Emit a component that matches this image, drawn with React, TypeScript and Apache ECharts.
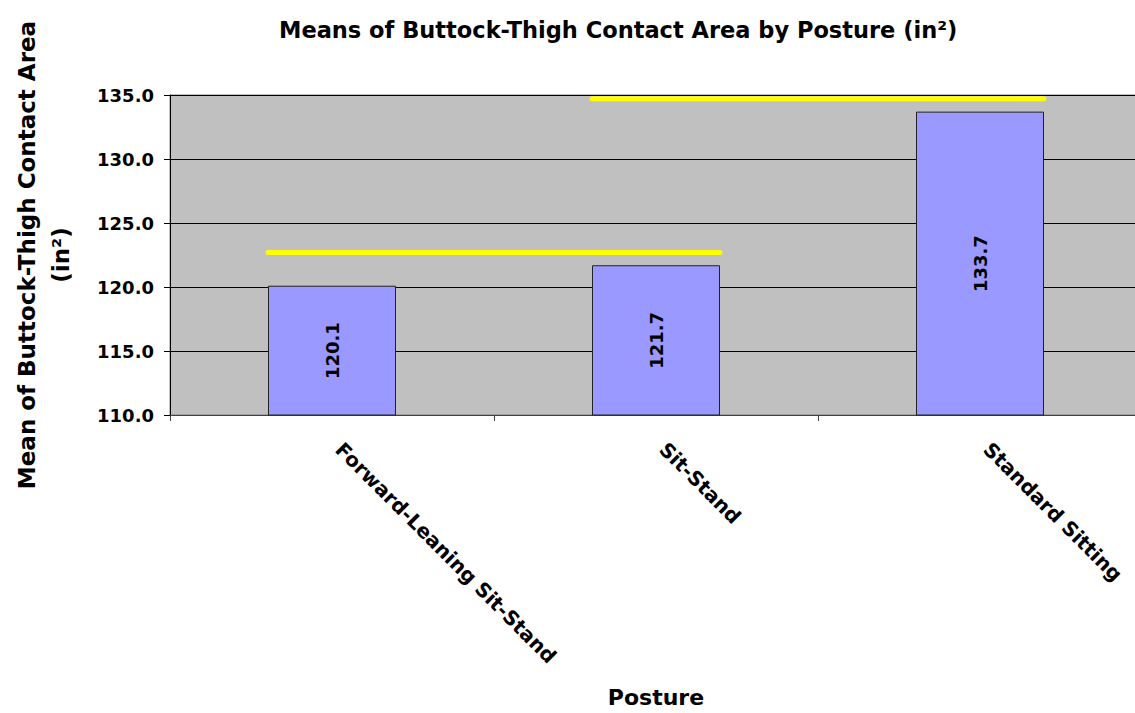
import React, { useEffect, useRef } from "react";
import * as echarts from "echarts";

const categories = ["Forward-Leaning Sit-Stand", "Sit-Stand", "Standard Sitting"];
const means = [120.1, 121.7, 133.7];
// homogeneous-group bars: [from category index, to category index, level]
const groupFrom = [0, 1];
const groupTo = [1, 2];
const groupLevel = [122.7, 134.7];
const yTicks = [110, 115, 120, 125, 130, 135];

const FONT = "'DejaVu Sans', 'Liberation Sans', Arial, sans-serif";

export default function App() {
  const ref = useRef<HTMLDivElement>(null);
  useEffect(() => {
    if (!ref.current) return;
    const chart = echarts.init(ref.current, undefined, { renderer: "svg" });
    const barRatio = 0.395;
    chart.setOption({
      animation: false,
      backgroundColor: "#ffffff",
      textStyle: { fontFamily: FONT },
      title: {
        text: "Means of Buttock-Thigh Contact Area by Posture (in²)",
        left: 274,
        top: 13,
        textStyle: { fontFamily: FONT, fontSize: 22.5, fontWeight: "bold", color: "#000" },
      },
      grid: {
        left: 170,
        top: 95,
        right: -7,
        bottom: 298,
        outerBoundsMode: "none",
        containLabel: false,
        show: true,
        backgroundColor: "#C0C0C0",
        borderColor: "#808080",
        borderWidth: 1,
      },
      xAxis: {
        type: "category",
        data: categories,
        boundaryGap: true,
        name: "Posture",
        nameLocation: "middle",
        nameGap: 271,
        nameTextStyle: { fontFamily: FONT, fontSize: 22, fontWeight: "bold", color: "#000" },
        axisLine: { show: true, lineStyle: { color: "#404040", width: 1 } },
        axisTick: { show: true, alignWithLabel: false, length: 6, lineStyle: { color: "#404040" } },
        axisLabel: {
          rotate: -45,
          margin: 38,
          interval: 0,
          verticalAlign: "bottom",
          fontFamily: FONT,
          fontSize: 20,
          fontWeight: "bold",
          color: "#000",
        },
        splitLine: { show: false },
      },
      yAxis: {
        type: "value",
        min: yTicks[0],
        max: yTicks[yTicks.length - 1],
        interval: 5,
        name: "Mean of Buttock-Thigh Contact Area\n(in²)",
        nameLocation: "middle",
        nameRotate: 90,
        nameGap: 92,
        nameTextStyle: {
          fontFamily: FONT,
          fontSize: 23,
          fontWeight: "bold",
          color: "#000",
          lineHeight: 34,
        },
        axisLine: { show: true, lineStyle: { color: "#000", width: 1 } },
        axisTick: { show: true, length: 6, lineStyle: { color: "#000" } },
        axisLabel: {
          formatter: (v: number) => v.toFixed(1),
          margin: 16,
          fontFamily: FONT,
          fontSize: 18,
          fontWeight: "bold",
          color: "#000",
        },
        splitLine: { show: true, lineStyle: { color: "#000", width: 1 } },
      },
      series: [
        {
          type: "bar",
          data: means,
          barWidth: `${barRatio * 100}%`,
          itemStyle: { color: "#9999FF", borderColor: "#222", borderWidth: 1 },
          label: {
            show: true,
            position: "inside",
            rotate: 90,
            formatter: (p: any) => Number(p.value).toFixed(1),
            fontFamily: FONT,
            fontSize: 18,
            fontWeight: "bold",
            color: "#000",
          },
          z: 2,
        },
        {
          type: "custom",
          data: groupLevel.map((v, i) => [groupFrom[i], groupTo[i], v]),
          encode: { x: 0, y: 2 },
          z: 3,
          renderItem: (params: any, api: any) => {
            const from = api.value(0);
            const to = api.value(1);
            const v = api.value(2);
            const p1 = api.coord([from, v]);
            const p2 = api.coord([to, v]);
            const half = (api.size([1, 0])[0] * barRatio) / 2;
            return {
              type: "line",
              shape: { x1: p1[0] - half, y1: p1[1], x2: p2[0] + half, y2: p2[1] },
              style: { stroke: "#FFFF00", lineWidth: 5, lineCap: "round" },
            };
          },
        },
      ],
    });
    return () => chart.dispose();
  }, []);
  return (
    <div
      ref={ref}
      style={{ position: "absolute", left: 0, top: 0, width: 1135, height: 713 }}
    />
  );
}
